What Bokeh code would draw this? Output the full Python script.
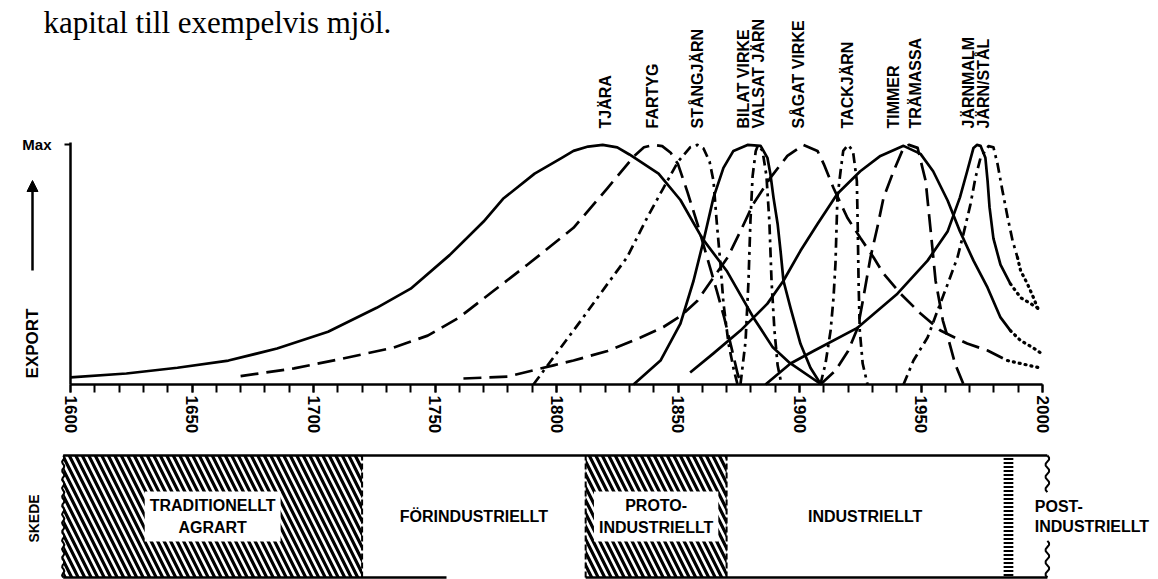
import math
import numpy as np
from bokeh.plotting import figure
from bokeh.models import Range1d, SingleIntervalTicker, FixedTicker, LinearAxis, Label, Arrow, NormalHead
from bokeh.embed import file_html
from bokeh.resources import INLINE
from bokeh.core.properties import value

# ---------------- data ----------------
tjara_years = [1600, 1623, 1644, 1665, 1685, 1706, 1726, 1740, 1756, 1770, 1778, 1791, 1802, 1807,
               1813, 1819, 1825, 1830, 1842, 1851, 1860, 1870, 1881, 1889, 1896, 1909]
tjara_vals = [0.03, 0.046, 0.07, 0.10, 0.15, 0.22, 0.32, 0.40, 0.54, 0.68, 0.775, 0.88, 0.945, 0.975,
              0.993, 1.0, 0.99, 0.96, 0.88, 0.77, 0.61, 0.475, 0.28, 0.155, 0.09, 0.0]

fartyg_years = [1670, 1692, 1712, 1733, 1747, 1760, 1774, 1788, 1793, 1807, 1821, 1832, 1836, 1840,
                1843.5, 1847, 1850, 1854, 1858, 1862, 1866, 1869, 1872, 1874.5, 1876]
fartyg_vals = [0.035, 0.067, 0.108, 0.154, 0.204, 0.28, 0.39, 0.50, 0.54, 0.654, 0.82, 0.954, 0.99, 1.0,
               0.995, 0.967, 0.92, 0.80, 0.67, 0.53, 0.39, 0.28, 0.154, 0.046, 0.0]

stangjarn_years = [1790.5, 1800, 1811, 1821, 1829, 1837.5, 1844, 1850, 1855, 1858, 1860.5, 1863, 1864.6,
                   1866, 1867.5, 1868.7, 1870.8, 1873, 1874.5]
stangjarn_vals = [0.0, 0.13, 0.28, 0.42, 0.53, 0.70, 0.82, 0.93, 0.99, 1.0, 0.985, 0.93, 0.85,
                  0.67, 0.50, 0.34, 0.17, 0.06, 0.0]

bilat_years = [1831.7, 1842.8, 1851, 1856.4, 1860.5, 1864.6, 1868.7, 1872.8, 1878.6, 1884, 1886.8, 1888,
               1889.3, 1891, 1892.2, 1893.4, 1896.3, 1900.4, 1904.5, 1907.8, 1908.6]
bilat_vals = [0.0, 0.10, 0.254, 0.433, 0.60, 0.78, 0.904, 0.975, 1.0, 0.996, 0.946, 0.88,
              0.78, 0.67, 0.558, 0.433, 0.32, 0.17, 0.07, 0.017, 0.0]

valsat_years = [1875.7, 1877.8, 1879, 1879.8, 1880.7, 1882, 1883, 1884.8, 1886.4, 1887.6, 1888.5,
                1889.7, 1891, 1892.6]
valsat_vals = [0.0, 0.18, 0.43, 0.68, 0.87, 0.975, 1.0, 0.975, 0.87, 0.68, 0.43, 0.225, 0.08, 0.0]

sagat_years = [1761.7, 1779.8, 1798.8, 1807, 1821, 1834.6, 1844, 1851, 1858, 1864.6, 1870.4, 1875.7,
               1881, 1888, 1895, 1901.6, 1907.4, 1910, 1914, 1919.7, 1925, 1930.5, 1934.6, 1941.6,
               1949.8, 1958, 1969, 1977.4, 1985.6, 1991, 2000]
sagat_vals = [0.025, 0.033, 0.08, 0.10, 0.14, 0.196, 0.24, 0.285, 0.35, 0.446, 0.53, 0.64,
              0.754, 0.8625, 0.954, 1.0, 0.975, 0.92, 0.82, 0.696, 0.6125, 0.53, 0.4625, 0.379,
              0.296, 0.225, 0.171, 0.142, 0.10, 0.0875, 0.067]
sagat_proj_from = 1985.6

tackjarn_years = [1908.6, 1910.7, 1912.8, 1914, 1914.8, 1915.2, 1915.6, 1916.9, 1918, 1920, 1922,
                  1923.6, 1924, 1924.3, 1924.8, 1926, 1928]
tackjarn_vals = [0.0, 0.0875, 0.225, 0.3625, 0.504, 0.64, 0.78, 0.89, 0.975, 1.0, 0.975,
                 0.85, 0.64, 0.433, 0.225, 0.0875, 0.0]

timmer_years = [1855, 1864.6, 1875.7, 1886.8, 1893.4, 1900.4, 1907.4, 1915.6, 1925, 1933.3, 1942.8,
                1949.8, 1955, 1961, 1966, 1971.6, 1977.4, 1982.7, 1986.8, 1991, 1996, 1999.5]
timmer_vals = [0.05, 0.13, 0.225, 0.3375, 0.433, 0.558, 0.67, 0.796, 0.89, 0.954, 0.996,
               0.9625, 0.89, 0.767, 0.64, 0.517, 0.404, 0.28, 0.225, 0.183, 0.154, 0.13]
timmer_proj_from = 1986.8

tramassa_years = [1908.6, 1914.8, 1920, 1924, 1926.3, 1929.2, 1932, 1934.6, 1938.7, 1942.8, 1945,
                  1948.6, 1951.9, 1954, 1956, 1959, 1962, 1964, 1967.5]
tramassa_vals = [0.0, 0.058, 0.14, 0.2375, 0.3625, 0.53, 0.654, 0.78, 0.89, 0.9875, 1.0,
                 0.9875, 0.85, 0.64, 0.433, 0.267, 0.1625, 0.0875, 0.0]

jarnmalm_years = [1886, 1896.3, 1905.8, 1924, 1940.3, 1952.7, 1961, 1966, 1969, 1971.6, 1973,
                  1974.5, 1976.5, 1977.4, 1978.2, 1979.8, 1982.7, 1986.8, 1991, 1998]
jarnmalm_vals = [0.0, 0.0875, 0.14, 0.2375, 0.379, 0.517, 0.64, 0.78, 0.89, 0.9875, 1.0,
                 0.996, 0.946, 0.85, 0.74, 0.61, 0.50, 0.42, 0.3625, 0.32]
jarnmalm_proj_from = 1986.8

jarnstal_years = [1942.8, 1946.9, 1952.7, 1956.8, 1961, 1965, 1967.5, 1970.4, 1972.4, 1974.5, 1977.8,
                  1979.8, 1981.5, 1983.5, 1985.6, 1987.7, 1989.7, 1991, 1993.8, 1996.3, 1998.4]
jarnstal_vals = [0.0, 0.10, 0.196, 0.308, 0.42, 0.53, 0.63, 0.754, 0.8625, 0.946, 0.995,
                 0.99, 0.92, 0.81, 0.70, 0.60, 0.53, 0.475, 0.42, 0.3625, 0.308]
jarnstal_proj_from = 1989.7

curve_names = ["TJÄRA", "FARTYG", "STÅNGJÄRN", "BILAT VIRKE", "VALSAT JÄRN", "SÅGAT VIRKE",
               "TACKJÄRN", "TIMMER", "TRÄMASSA", "JÄRNMALM", "JÄRN/STÅL"]
label_years = [1820.2, 1839.5, 1858.0, 1877.0, 1883.0, 1899.6, 1919.8, 1938.7, 1947.7, 1969.5, 1975.7]

phase_names = ["TRADITIONELLT\nAGRART", "FÖRINDUSTRIELLT", "PROTO-\nINDUSTRIELLT", "INDUSTRIELLT"]
phase_start = [1597, 1720, 1812, 1870]
phase_end = [1720, 1812, 1870, 1984]
phase_hatched = [True, False, True, False]
transition_start, transition_end = 1984, 1988
band_end = 2002
post_name = "POST-\nINDUSTRIELLT"
post_label_year = 1996

top_text = "kapital till exempelvis mjöl."

# ---------------- geometry / styles ----------------
W, H = 1158, 579
PX_YEAR = 972 / 400.0          # pixels per year
PX_UNIT = 239.6                # pixels per export unit
X_LEFT, Y_BASE = 70, 384       # page position of (1600, 0)


def yv(py):   # page y -> export value
    return (Y_BASE - py) / PX_UNIT


def xv(px):   # page x -> year
    return 1600 + (px - X_LEFT) / PX_YEAR


BOLD = "Liberation Sans"
DASH = {"solid": "solid", "dashed": "18 8", "dashdot": "10 5 3 5"}

series = [
    (tjara_years, tjara_vals, "solid", None),
    (fartyg_years, fartyg_vals, "dashed", None),
    (stangjarn_years, stangjarn_vals, "dashdot", None),
    (bilat_years, bilat_vals, "solid", None),
    (valsat_years, valsat_vals, "dashdot", None),
    (sagat_years, sagat_vals, "dashed", sagat_proj_from),
    (tackjarn_years, tackjarn_vals, "dashdot", None),
    (timmer_years, timmer_vals, "solid", timmer_proj_from),
    (tramassa_years, tramassa_vals, "dashed", None),
    (jarnmalm_years, jarnmalm_vals, "solid", jarnmalm_proj_from),
    (jarnstal_years, jarnstal_vals, "dashdot", jarnstal_proj_from),
]

p = figure(width=W, height=H, x_range=Range1d(xv(0), xv(W)), y_range=Range1d(yv(H), yv(0)),
           output_backend="svg", toolbar_location=None, min_border=0,
           x_axis_location=None, y_axis_location=None)
p.grid.visible = False
p.outline_line_color = None
p.background_fill_color = "white"
p.border_fill_color = "white"

# x axis (years)
xa = LinearAxis(fixed_location=0, bounds=(1600, 2000),
                ticker=SingleIntervalTicker(interval=50, num_minor_ticks=5))
xa.major_label_orientation = "vertical"
xa.major_label_text_font = BOLD
xa.major_label_text_font_style = "bold"
xa.major_label_text_font_size = "17px"
xa.major_label_text_color = "black"
xa.axis_line_width = 2.5
xa.axis_line_color = "black"
xa.major_tick_line_width = 2
xa.minor_tick_line_width = 2
xa.major_tick_line_color = "black"
xa.minor_tick_line_color = "black"
xa.major_tick_in = 0
xa.major_tick_out = 8
xa.minor_tick_in = 0
xa.minor_tick_out = 8
xa.major_label_standoff = 3
p.add_layout(xa, "below")

# y axis (Max)
ya = LinearAxis(fixed_location=1600, bounds=(0, yv(142)),
                ticker=FixedTicker(ticks=[1.0], minor_ticks=[]))
ya.major_label_overrides = {1.0: "Max"}
ya.major_label_text_font = BOLD
ya.major_label_text_font_style = "bold"
ya.major_label_text_font_size = "15px"
ya.major_label_text_color = "black"
ya.axis_line_width = 2.5
ya.axis_line_color = "black"
ya.major_tick_line_width = 2
ya.major_tick_line_color = "black"
ya.major_tick_in = 0
ya.major_tick_out = 6
ya.major_label_standoff = 13
p.add_layout(ya, "left")

# curve names
ta = LinearAxis(fixed_location=yv(128), ticker=FixedTicker(ticks=label_years, minor_ticks=[]),
                major_label_overrides=dict(zip(label_years, curve_names)),
                major_label_orientation="vertical",
                axis_line_color=None, major_tick_line_color=None, minor_tick_line_color=None,
                major_tick_in=0, major_tick_out=0, minor_tick_in=0, minor_tick_out=0,
                major_label_standoff=0,
                major_label_text_font=BOLD, major_label_text_font_style="bold",
                major_label_text_font_size="16px", major_label_text_color="black")
p.add_layout(ta, "above")

for yrs, vals, style, proj in series:
    kw = dict(line_color="black", line_width=2.7, line_join="round")
    if proj is None:
        p.line(yrs, vals, line_dash=DASH[style], **kw)
    else:
        i = yrs.index(proj)
        p.line(yrs[:i + 1], vals[:i + 1], line_dash=DASH[style], **kw)
        p.line(yrs[i:], vals[i:], line_dash="1 5", line_cap="round",
               line_color="black", line_width=3.2)

p.add_layout(Label(x=xv(43), y=yv(22), text=top_text, text_font="Liberation Serif",
                   text_font_size="31px", text_color="black", text_baseline="alphabetic",
                   text_align="left"))
p.add_layout(Label(x=xv(32), y=yv(343), text="EXPORT", angle=math.pi / 2, text_font=BOLD,
                   text_font_style="bold", text_font_size="17px", text_color="black",
                   text_align="center", text_baseline="middle"))
p.add_layout(Arrow(end=NormalHead(size=11, fill_color="black", line_color="black"),
                   x_start=xv(32), y_start=yv(270), x_end=xv(32), y_end=yv(180),
                   line_width=2.5, line_color="black"))

# ---------------- phase band ----------------
b_top, b_bot = yv(455), yv(577)
b_mid = (b_top + b_bot) / 2

hs = [s for s, h in zip(phase_start, phase_hatched) if h]
he = [e for e, h in zip(phase_end, phase_hatched) if h]
p.quad(left=hs, right=he, bottom=b_bot, top=b_top, fill_color="white", line_color=None,
       hatch_pattern="\\", hatch_scale=13, hatch_weight=3.2, hatch_color="black")
p.quad(left=[transition_start], right=[transition_end], bottom=b_bot, top=b_top, fill_color="white",
       line_color=None, hatch_pattern="-", hatch_scale=4, hatch_weight=2, hatch_color="black")

band_start = phase_start[0]
p.line([band_start, band_end], [b_top, b_top], line_color="black", line_width=2.5)
p.line([band_start, xv(446)], [b_bot, b_bot], line_color="black", line_width=2.5)
p.line([phase_start[2], band_end], [b_bot, b_bot], line_color="black", line_width=2.5)
bounds = [phase_end[0], phase_start[2], phase_end[2]]
p.segment(x0=bounds, y0=b_bot, x1=bounds, y1=b_top, line_color="black", line_width=2, line_dash="6 3")

# wavy edges
t = np.linspace(0, 1, 61)
p.line(band_start + 0.5 * np.sin(t * 2 * np.pi * 14), b_top + (b_bot - b_top) * t,
       line_color="black", line_width=2)
tw = np.linspace(0, 1, 19)
seg = 0.3 * (b_bot - b_top)
p.line(band_end + 0.8 * np.sin(tw * 2 * np.pi * 3), b_top + seg * tw, line_color="black", line_width=2)
p.line(band_end + 0.8 * np.sin(tw * 2 * np.pi * 3), b_bot - seg + seg * tw, line_color="black", line_width=2)

mids = [(s + e) / 2 for s, e in zip(phase_start, phase_end)]
hn = [n for n, h in zip(phase_names, phase_hatched) if h]
hm = [m for m, h in zip(mids, phase_hatched) if h]
pn = [n for n, h in zip(phase_names, phase_hatched) if not h]
pm = [m for m, h in zip(mids, phase_hatched) if not h]
p.text(x=hm, y=[b_mid] * len(hm), text=hn, text_align="center", text_baseline="middle",
       text_font=value(BOLD), text_font_style="bold", text_font_size="16px",
       text_color="black", background_fill_color="white", padding=5, text_line_height=1.35)
p.text(x=pm, y=[b_mid] * len(pm), text=pn, text_align="center", text_baseline="middle",
       text_font=value(BOLD), text_font_style="bold", text_font_size="16px", text_color="black")
p.text(x=[post_label_year], y=[b_mid], text=[post_name], text_align="left", text_baseline="middle",
       text_font=value(BOLD), text_font_style="bold", text_font_size="16px", text_color="black",
       background_fill_color="white", padding=2, text_line_height=1.15)
p.text(x=[xv(33)], y=[yv(518)], text=["SKEDE"], angle=math.pi / 2, text_align="center",
       text_baseline="middle", text_font=value(BOLD), text_font_style="bold",
       text_font_size="14px", text_color="black")

open("out.html", "w").write(file_html(p, INLINE))
